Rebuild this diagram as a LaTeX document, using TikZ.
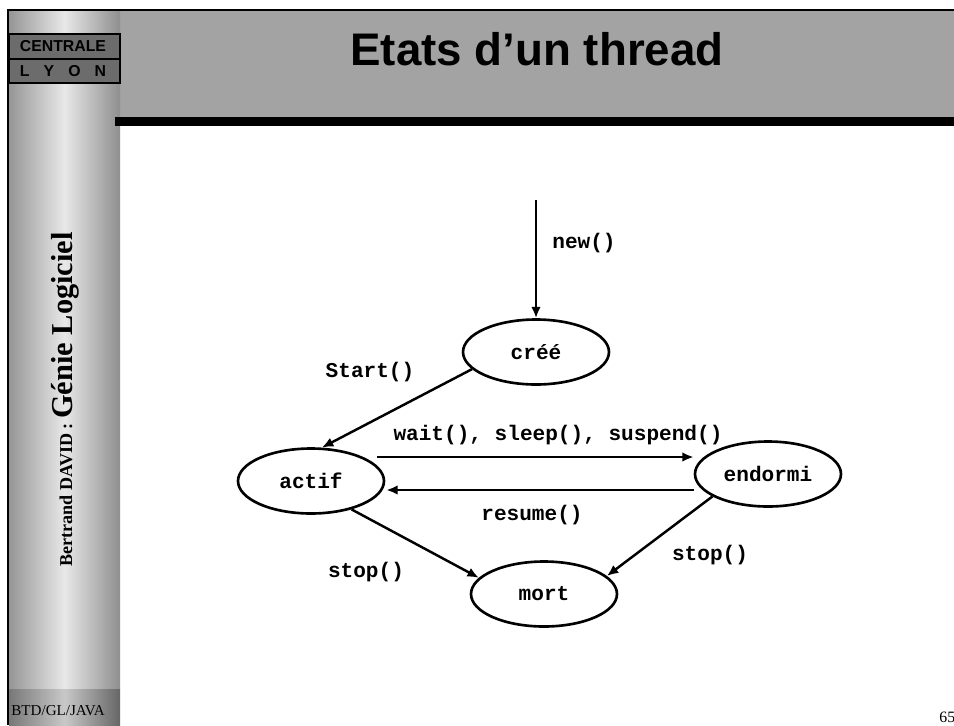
\documentclass[tikz,border=0pt]{standalone}
\usepackage{fontspec}
\setmainfont{Liberation Serif}
\newfontfamily\arialfont{Liberation Sans}
\newfontfamily\monofont{Liberation Mono}
\usetikzlibrary{shapes.geometric,arrows.meta}

\definecolor{titregris}{RGB}{163,163,163}
\definecolor{boxgris}{RGB}{108,108,108}
\definecolor{barbord}{RGB}{150,150,150}
\definecolor{barclair}{RGB}{232,232,232}
\definecolor{basbord}{RGB}{120,120,120}
\definecolor{basclair}{RGB}{200,200,200}

\begin{document}
\begin{tikzpicture}[x=0.02cm,y=-0.02cm]
\useasboundingbox (0,0) rectangle (954,725);

        % bandeau, colonne, cadre
        \fill[titregris] (120,11) rectangle (954,117);
        \shade[left color=barbord, right color=barbord!95!black, middle color=barclair] (9,11) rectangle (120,689);
        \shade[left color=basbord, right color=basbord!85!black, middle color=basclair] (9,689) rectangle (120,725);
        \fill[black] (115,117) rectangle (954,126);
        \draw[line width=1.2pt] (8,725) -- (8,10) -- (954,10);
        \draw[fill=boxgris, line width=0.6pt] (9,34) rectangle (120,59);
        \draw[fill=boxgris, line width=0.6pt] (9,59) rectangle (120,83);

        \begin{scope}[every node/.style={font=\arialfont\bfseries\fontsize{9}{10}\selectfont}]
          \node (centrale) at (63,46.5) {CENTRALE};
          \node (lyon)     at (63,71)   {L\hspace{8pt}Y\hspace{8pt}O\hspace{8pt}N};
        \end{scope}

        \node[anchor=base, font=\arialfont\bfseries\fontsize{26}{30}\selectfont] (titre) at (537,65) {Etats d’un thread};
        \node[anchor=base west, rotate=90, inner sep=0pt, font=\bfseries] (auteur) at (72,567)
          {\fontsize{10.3}{12}\selectfont Bertrand DAVID : \fontsize{17.3}{20}\selectfont Génie Logiciel};
        \node[anchor=base west, inner sep=0pt, font=\fontsize{8.6}{10}\selectfont] (cours) at (11,715) {BTD/GL/JAVA};
        \node[anchor=base west, inner sep=0pt, font=\fontsize{9}{10}\selectfont] (page) at (939,722) {65};

        \begin{scope}[every node/.style={ellipse, draw, line width=1.5pt, minimum width=2.92cm,
            minimum height=1.3cm, font=\monofont\bfseries\fontsize{12}{14}\selectfont}]
          \node (cree)    at (536,352) {créé};
          \node (actif)   at (311,481) {actif};
          \node (endormi) at (768,474) {endormi};
          \node (mort)    at (544,594) {mort};
        \end{scope}

        \coordinate (depart) at (536,200);

        \begin{scope}[every node/.style={font=\monofont\bfseries\fontsize{12}{14}\selectfont}]
          \node (lnew)    at (584,243) {new()};
          \node (lstart)  at (370,372) {Start()};
          \node (lwait)   at (558,435) {wait(), sleep(), suspend()};
          \node (lresume) at (532,515) {resume()};
          \node (lstopa)  at (366,572) {stop()};
          \node (lstopb)  at (710,555) {stop()};
        \end{scope}

        \begin{scope}[every edge/.style={draw, line width=1.4pt, -{Latex[length=6.5pt,width=5.5pt]}}]
          \path (depart) edge (cree.north);
          \path (cree.195) edge (actif.72);
          \path ([shift={(-8,-24)}]actif.east) edge ([shift={(0,-17)}]endormi.west);
          \path ([shift={(0,16)}]endormi.west) edge ([shift={(1,9)}]actif.east);
          \path (actif.-35) edge (mort.166);
          \path (endormi.202) edge (mort.16);
        \end{scope}

      \end{tikzpicture}
\end{document}
